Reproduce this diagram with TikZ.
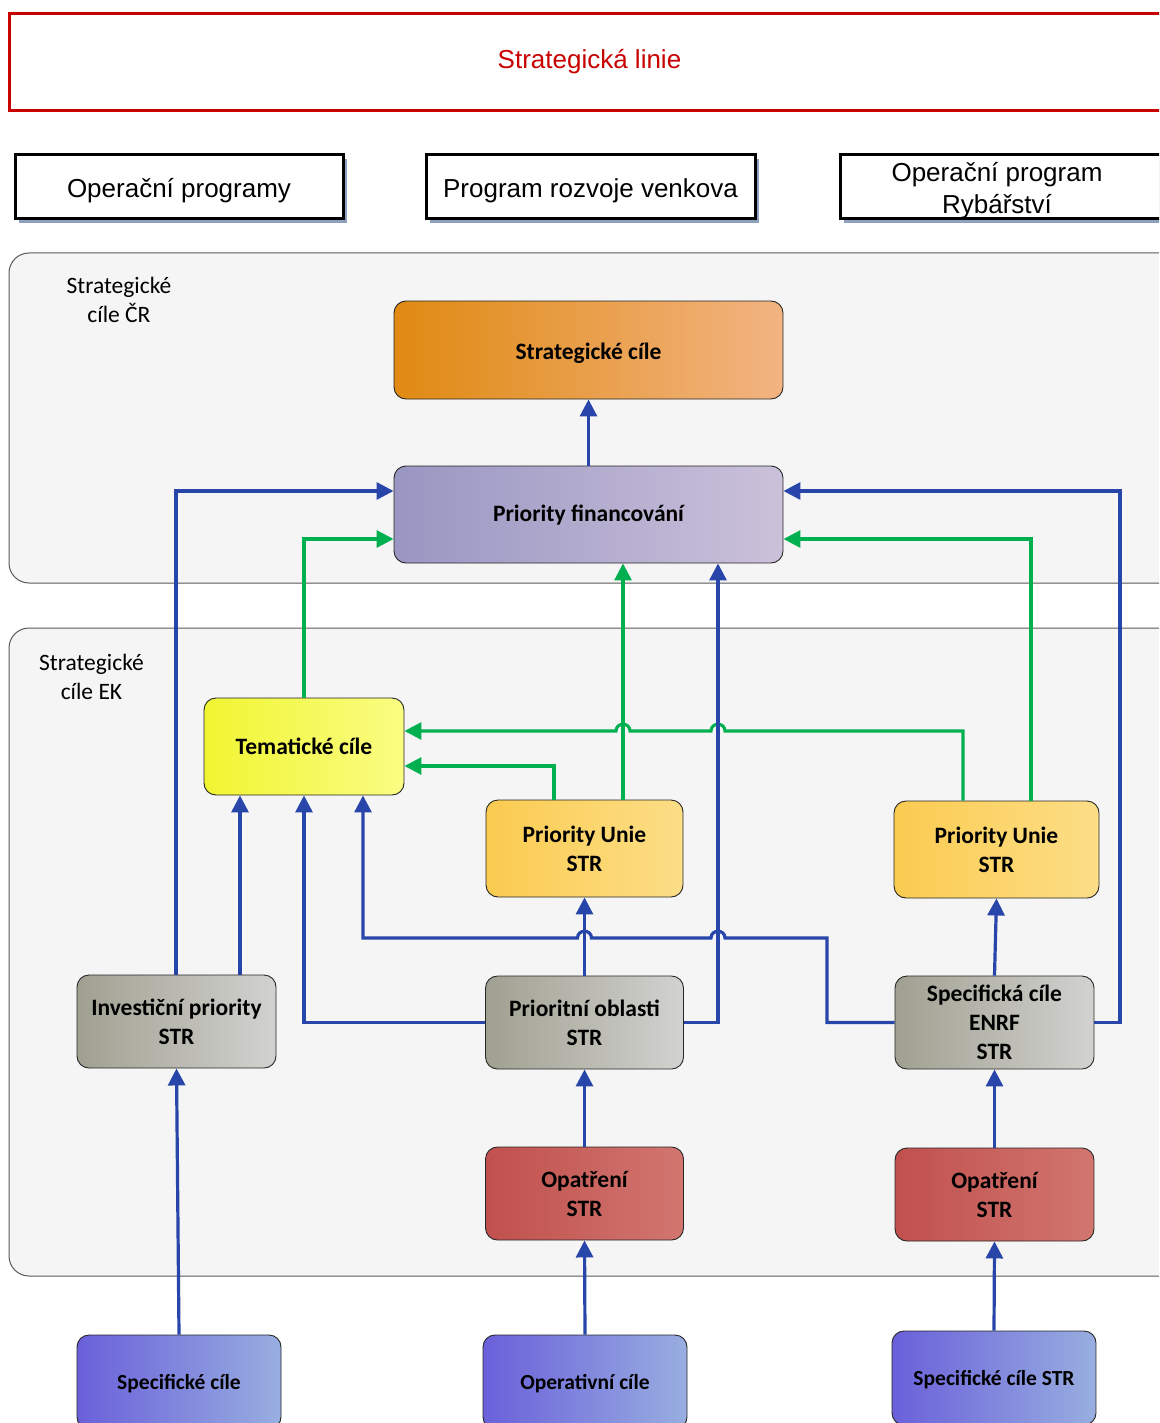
\documentclass[tikz,border=0pt]{standalone}
\usepackage{fontspec}
\setmainfont{Carlito}
\newfontfamily\arialf{Liberation Sans}
\usetikzlibrary{arrows.meta}
\definecolor{lnblue}{RGB}{40,70,170}
\definecolor{lngreen}{RGB}{0,176,80}
\definecolor{redline}{RGB}{200,0,0}
\definecolor{shadowc}{RGB}{141,160,190}
\definecolor{contfill}{RGB}{245,245,245}
\definecolor{contdraw}{RGB}{90,90,90}
\definecolor{orA}{RGB}{224,138,18}\definecolor{orB}{RGB}{242,180,130}
\definecolor{pfA}{RGB}{153,150,194}\definecolor{pfB}{RGB}{203,193,218}
\definecolor{tcA}{RGB}{240,245,50}\definecolor{tcB}{RGB}{250,253,130}
\definecolor{puA}{RGB}{251,203,80}\definecolor{puB}{RGB}{252,222,135}
\definecolor{grA}{RGB}{160,160,145}\definecolor{grB}{RGB}{210,210,208}
\definecolor{rdA}{RGB}{192,80,77}\definecolor{rdB}{RGB}{210,118,112}
\definecolor{bpA}{RGB}{106,96,218}\definecolor{bpB}{RGB}{152,174,224}
\newcommand{\lowerby}[2]{\raisebox{-#1}[0pt][0pt]{#2}}
\tikzset{
  gbox/.style={rounded corners=12pt, draw=black!85, line width=0.9pt, align=center,
    inner sep=0pt, font=\bfseries\fontsize{23.5}{29}\selectfont},
  botbox/.style={gbox, font=\bfseries\fontsize{21.5}{26}\selectfont},
  topbox/.style={draw=black, line width=3pt, fill=white, inner sep=0pt, align=center,
    minimum width=328pt, minimum height=64pt, font=\arialf\fontsize{26}{32}\selectfont},
  cont/.style={rounded corners=20pt, draw=contdraw, line width=1pt, fill=contfill},
  clabel/.style={align=center, font=\fontsize{23.5}{29}\selectfont, inner sep=0pt},
  barrow/.style={draw=lnblue, line width=3.2pt, -{Triangle[length=17pt,width=17pt]}},
  garrow/.style={draw=lngreen, line width=3.1pt, -{Triangle[length=17pt,width=17pt]}},
}
\begin{document}
\begin{tikzpicture}[x=1pt,y=-1pt]
\clip (0,0) rectangle (1159,1423);
\fill[white] (0,0) rectangle (1159,1423);

% title box
\node[draw=redline, line width=3pt, minimum width=1160pt, minimum height=97pt, anchor=north west,
  text=redline, font=\arialf\fontsize{26}{31}\selectfont] (title) at (8,12) {Strategická linie};

% top program boxes
\fill[shadowc] (19,159) rectangle (347,223);
\fill[shadowc] (430,159) rectangle (759,223);
\fill[shadowc] (844,159) rectangle (1172,223);
\node[topbox] (op) at (179,187) {\lowerby{11pt}{Operační programy}};
\node[topbox, minimum width=329pt] (prv) at (590.5,187) {\lowerby{11pt}{Program rozvoje venkova}};
\node[topbox] (opr) at (1004,187) {\raisebox{5pt}[0pt][0pt]{\hspace*{-14pt}\begin{tabular}[t]{@{}c@{}}Operační program\\Rybářství\end{tabular}}};

% containers
\draw[cont] (9,253) rectangle (1180,583);
\draw[cont] (9,628) rectangle (1180,1276);
\node[clabel] (lcr) at (119,300) {Strategické\\cíle ČR};
\node[clabel] (lek) at (91.5,677) {Strategické\\cíle EK};

% nodes
\node[gbox, left color=orA, right color=orB, minimum width=389pt, minimum height=98pt] (sc) at (588.5,350) {\lowerby{9.5pt}{Strategické cíle}};
\node[gbox, left color=pfA, right color=pfB, minimum width=389pt, minimum height=97pt] (pf) at (588.5,514.5) {\lowerby{7pt}{Priority financování}};
\node[gbox, left color=tcA, right color=tcB, minimum width=200pt, minimum height=97pt] (tc) at (304,746.5) {Tematické cíle};
\node[gbox, left color=puA, right color=puB, minimum width=197pt, minimum height=97pt] (pu1) at (584.5,848.5) {Priority Unie\\STR};
\node[gbox, left color=puA, right color=puB, minimum width=205pt, minimum height=97pt] (pu2) at (996.5,849.5) {Priority Unie\\STR};
\node[gbox, left color=grA, right color=grB, minimum width=199pt, minimum height=93pt] (ip) at (176.5,1021.5) {Investiční priority\\STR};
\node[gbox, left color=grA, right color=grB, minimum width=198pt, minimum height=93pt] (po) at (584.5,1022.5) {Prioritní oblasti\\STR};
\node[gbox, left color=grA, right color=grB, minimum width=199pt, minimum height=93pt] (sce) at (994.5,1022.5) {Specifická cíle\\ENRF\\STR};
\node[gbox, left color=rdA, right color=rdB, minimum width=198pt, minimum height=93pt] (op1) at (584.5,1193.5) {Opatření\\STR};
\node[gbox, left color=rdA, right color=rdB, minimum width=199pt, minimum height=93pt] (op2) at (994.5,1194.5) {Opatření\\STR};
\node[botbox, left color=bpA, right color=bpB, minimum width=204pt, minimum height=94pt] (bs1) at (179,1382) {\lowerby{7pt}{Specifické cíle}};
\node[botbox, left color=bpA, right color=bpB, minimum width=204pt, minimum height=94pt] (bs2) at (585,1382) {\lowerby{7pt}{Operativní cíle}};
\node[botbox, left color=bpA, right color=bpB, minimum width=204pt, minimum height=94pt] (bs3) at (994,1378) {\lowerby{7pt}{Specifické cíle STR}};

% helper coordinates
\coordinate (X176) at (176,0);
\coordinate (X240) at (240,0);
\coordinate (X304) at (304,0);
\coordinate (X363) at (363,0);
\coordinate (X554) at (554,0);
\coordinate (X623) at (623,0);
\coordinate (X718) at (718,0);
\coordinate (X827) at (827,0);
\coordinate (X963) at (963,0);
\coordinate (X1031) at (1031,0);
\coordinate (X1120) at (1120,0);
\coordinate (Y491) at (0,491);
\coordinate (Y539) at (0,539);
\coordinate (Y731) at (0,731);
\coordinate (Y766) at (0,766);
\coordinate (Y938) at (0,938);

% green connectors
\draw[garrow] (tc.north) |- (pf.west |- Y539);
\draw[garrow] (pu1.north -| X623) -- (pf.south -| X623);
\draw[garrow] (pu1.north -| X554) |- (tc.east |- Y766);
\draw[garrow] (pu2.north -| X1031) |- (pf.east |- Y539);
\draw[garrow] (pu2.north -| X963) -- (X963 |- Y731) -- (725,731)
  .. controls (725,722) and (711,722) .. (711,731) -- (630,731)
  .. controls (630,722) and (616,722) .. (616,731) -- (tc.east |- Y731);

% blue connectors
\draw[barrow] (pf.north) -- (sc.south);
\draw[barrow] (ip.north -| X176) |- (pf.west |- Y491);
\draw[barrow] (ip.north -| X240) -- (tc.south -| X240);
\draw[barrow] (po.west) -| (tc.south -| X304);
\draw[barrow] (po.north) -- (pu1.south);
\draw[barrow] (po.east) -| (pf.south -| X718);
\draw[barrow] (sce.west) -| (X827 |- Y938) -- (725,938)
  .. controls (725,929) and (711,929) .. (711,938) -- (591.5,938)
  .. controls (591.5,929) and (577.5,929) .. (577.5,938) -- (X363 |- Y938) -- (tc.south -| X363);
\draw[barrow] (sce.north) -- (pu2.south);
\draw[barrow] (sce.east) -| (X1120 |- Y491) -- (pf.east |- Y491);
\draw[barrow] (op1.north) -- (po.south);
\draw[barrow] (op2.north) -- (sce.south);
\draw[barrow] (bs1.north) -- (ip.south);
\draw[barrow] (bs2.north) -- (op1.south);
\draw[barrow] (bs3.north) -- (op2.south);
\end{tikzpicture}
\end{document}
